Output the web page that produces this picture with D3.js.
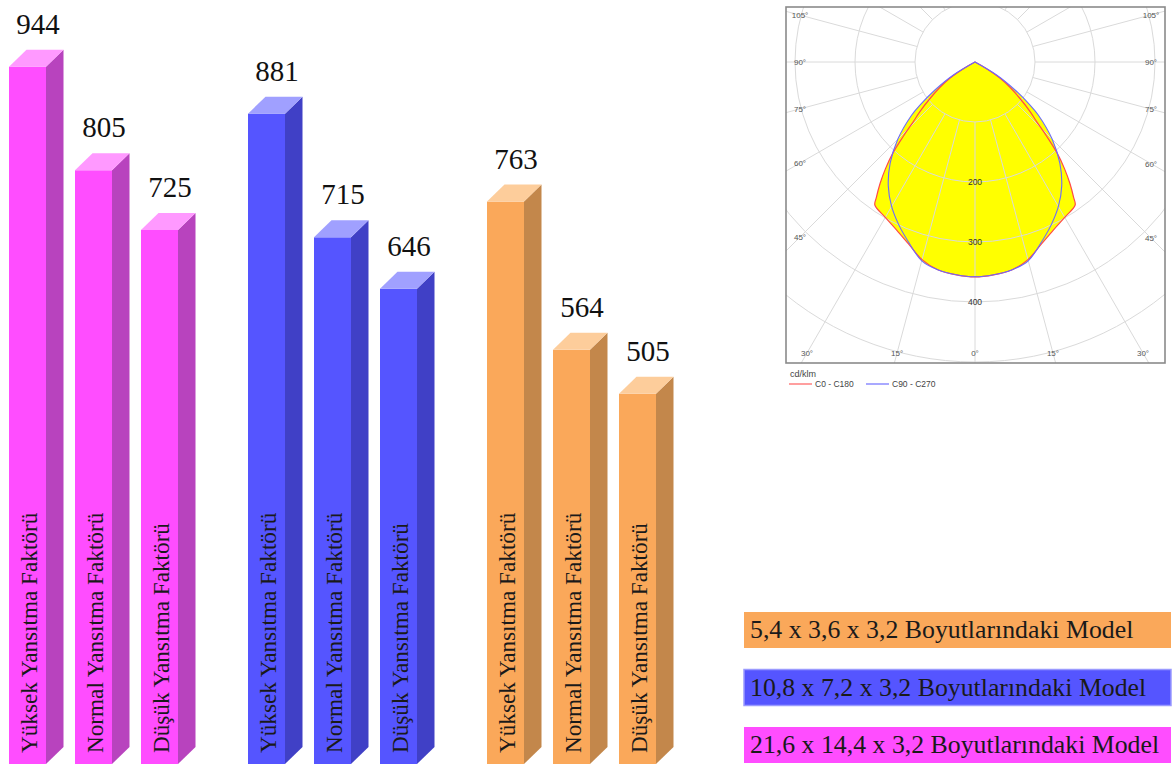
<!DOCTYPE html>
<html>
<head>
<meta charset="utf-8">
<script src="https://cdn.jsdelivr.net/npm/d3@7"></script>
<style>
  html, body { margin: 0; padding: 0; background: #ffffff; }
  svg { display: block; }
</style>
</head>
<body>
<svg id="chart" width="1175" height="767"></svg>
<script>
// ---- Illuminance results per room model and reflectance factor ----
const models = [
  "21,6 x 14,4 x 3,2 Boyutlarındaki Model",
  "10,8 x 7,2 x 3,2 Boyutlarındaki Model",
  "5,4 x 3,6 x 3,2 Boyutlarındaki Model"
];
const factors = ["Yüksek Yansıtma Faktörü", "Normal Yansıtma Faktörü", "Düşük Yansıtma Faktörü"];
const valuesLargeRoom  = [944, 805, 725];
const valuesMediumRoom = [881, 715, 646];
const valuesSmallRoom  = [763, 564, 505];
const legendOrder = [2, 1, 0]; // small, medium, large model from top to bottom

// ---- Luminaire intensity distribution (cd/klm) ----
const gammaC0     = [0, 5, 10, 15, 20, 25, 30, 35, 36, 38, 40, 42, 44, 46, 48, 51, 54, 57, 60, 62];
const intensityC0 = [358, 356, 352, 341, 323, 309, 299, 291, 280, 257, 232, 205, 172, 142, 124, 96, 73, 50, 20, 0];
const gammaC90     = [0, 5, 10, 15, 20, 25, 30, 35, 40, 45, 50, 52, 55, 59, 63];
const intensityC90 = [358, 356, 352, 343, 321, 300, 278, 252, 220, 182, 138, 116, 82, 42, 0];
const polarRings = [100, 200, 300, 400, 500];
const polarRingLabels = [200, 300, 400];
const polarAngleLabels = [0, 15, 30, 45, 60, 75, 90, 105];
const curveNames = ["C0 - C180", "C90 - C270"];

const svg = d3.select("#chart");
const serif = "'Liberation Serif', 'Times New Roman', serif";
const sans = "'Liberation Sans', Arial, sans-serif";

// ---------------- 3D bar chart ----------------
const series = [valuesLargeRoom, valuesMediumRoom, valuesSmallRoom];
const palette = [
  { front: "#ff4dff", side: "#b843be", top: "#ff99ff" },
  { front: "#5555ff", side: "#4040c6", top: "#a0a0ff" },
  { front: "#faa85a", side: "#c3874b", top: "#fdcd9b" }
];
const floorY = 764;
const depthX = 17.5, depthY = 17;

const y = d3.scaleLinear().domain([0, 1000]).range([770, 25]);
const xGroup = d3.scaleBand().domain(d3.range(models.length)).range([9, 9 + 3 * 239]);
const xBar = d3.scaleBand().domain(d3.range(factors.length))
  .range([0, 66 * (3 - 29 / 66)]).paddingInner(29 / 66).paddingOuter(0);
const bw = xBar.bandwidth();

const bars = [];
series.forEach((vals, g) => vals.forEach((v, i) => bars.push({ g, i, v })));

const barG = svg.append("g").attr("class", "bars");
const bar = barG.selectAll("g.bar").data(bars).join("g").attr("class", "bar")
  .attr("transform", d => `translate(${xGroup(d.g) + xBar(d.i)},0)`);

bar.append("rect")
  .attr("x", 0).attr("y", d => y(d.v))
  .attr("width", bw).attr("height", d => floorY - y(d.v))
  .attr("fill", d => palette[d.g].front);

bar.append("path")
  .attr("d", d => {
    const t = y(d.v);
    return `M${bw},${t} L${bw + depthX},${t - depthY} L${bw + depthX},${floorY - depthY} L${bw},${floorY} Z`;
  })
  .attr("fill", d => palette[d.g].side);

bar.append("path")
  .attr("d", d => {
    const t = y(d.v);
    return `M0,${t} L${depthX},${t - depthY} L${bw + depthX},${t - depthY} L${bw},${t} Z`;
  })
  .attr("fill", d => palette[d.g].top);

// value labels above each bar
bar.append("text")
  .attr("x", 29).attr("y", d => y(d.v) - depthY - 16)
  .attr("text-anchor", "middle")
  .attr("font-family", serif).attr("font-size", 29).attr("fill", "#111")
  .text(d => d.v);

// reflectance factor written up the bar
bar.append("text")
  .attr("transform", `translate(28,${floorY - 11}) rotate(-90)`)
  .attr("font-family", serif).attr("font-size", 23.2).attr("fill", "#1a1a1a")
  .text(d => factors[d.i]);

// ---------------- legend ----------------
const legendY = d3.scalePoint().domain(legendOrder).range([612, 727]);
const legend = svg.append("g").selectAll("g").data(legendOrder).join("g")
  .attr("transform", g => `translate(744,${legendY(g)})`);
legend.append("rect")
  .attr("width", 427).attr("height", 36)
  .attr("fill", g => palette[g].front)
  .attr("stroke", g => g === 1 ? "#9a9aff" : "none").attr("stroke-width", 1.5);
legend.append("text")
  .attr("x", 6).attr("y", 26)
  .attr("font-family", serif).attr("font-size", 25.8).attr("fill", "#1a1a1a")
  .text(g => models[g]);

// ---------------- polar intensity diagram ----------------
const box = { x: 786, y: 7, w: 379, h: 356 };
const cx = 975, cy = 62;
const r = d3.scaleLinear().domain([0, 500]).range([0, 300]);
const rad = deg => deg * Math.PI / 180;

const polar = svg.append("g").attr("class", "polar");
polar.append("defs").append("clipPath").attr("id", "polarClip")
  .append("rect").attr("x", box.x).attr("y", box.y).attr("width", box.w).attr("height", box.h);
polar.append("rect")
  .attr("x", box.x).attr("y", box.y).attr("width", box.w).attr("height", box.h)
  .attr("fill", "#fff");

const inner = polar.append("g").attr("clip-path", "url(#polarClip)");
const plot = inner.append("g").attr("transform", `translate(${cx},${cy})`);

// symmetric curve: left half (C180 / C270) and right half (C0 / C90)
function curvePoints(gammas, vals) {
  const pts = [];
  for (let k = gammas.length - 1; k >= 0; k--) pts.push([Math.PI + rad(gammas[k]), r(vals[k])]);
  for (let k = 1; k < gammas.length; k++) pts.push([Math.PI - rad(gammas[k]), r(vals[k])]);
  return pts;
}
const radial = d3.lineRadial().angle(p => p[0]).radius(p => p[1]).curve(d3.curveCatmullRom.alpha(0.5));
const ptsC0 = curvePoints(gammaC0, intensityC0);
const ptsC90 = curvePoints(gammaC90, intensityC90);

plot.append("path").attr("d", radial(ptsC0) + "Z").attr("fill", "#ffff00");
plot.append("path").attr("d", radial(ptsC90) + "Z").attr("fill", "#ffff00");

// grid rings and spokes
plot.selectAll("circle.ring").data(polarRings).join("circle").attr("class", "ring")
  .attr("r", d => r(d)).attr("fill", "none").attr("stroke", "#dadada").attr("stroke-width", 1);
const spokes = d3.range(-180, 181, 15);
plot.selectAll("line.spoke").data(spokes).join("line").attr("class", "spoke")
  .attr("x1", a => r(100) * Math.sin(rad(a))).attr("y1", a => r(100) * Math.cos(rad(a)))
  .attr("x2", a => 700 * Math.sin(rad(a))).attr("y2", a => 700 * Math.cos(rad(a)))
  .attr("stroke", "#dadada").attr("stroke-width", 1);

// curve outlines
plot.append("path").attr("d", radial(ptsC0) + "Z").attr("fill", "none")
  .attr("stroke", "#ff4a4a").attr("stroke-width", 1.2);
plot.append("path").attr("d", radial(ptsC90) + "Z").attr("fill", "none")
  .attr("stroke", "#6a6aff").attr("stroke-width", 1.1);

plot.selectAll("text.ringLabel").data(polarRingLabels).join("text").attr("class", "ringLabel")
  .attr("x", 0).attr("y", d => r(d) + 3)
  .attr("text-anchor", "middle").attr("font-family", sans).attr("font-size", 8.5).attr("fill", "#333")
  .text(d => d);

// angle labels placed where each spoke meets the inset frame
const inset = { left: box.x + 14 - cx, right: box.x + box.w - 14 - cx, bottom: box.y + box.h - 10 - cy };
function labelPos(a) {
  const dx = Math.sin(rad(a)), dy = Math.cos(rad(a));
  let t = Infinity;
  if (dx > 1e-6) t = Math.min(t, inset.right / dx);
  if (dx < -1e-6) t = Math.min(t, inset.left / dx);
  if (dy > 1e-6) t = Math.min(t, inset.bottom / dy);
  return [dx * t, dy * t];
}
const angleLabels = [];
polarAngleLabels.forEach(a => {
  angleLabels.push(-a);
  if (a !== 0) angleLabels.push(a);
});
plot.selectAll("text.angleLabel").data(angleLabels).join("text").attr("class", "angleLabel")
  .attr("x", a => labelPos(a)[0]).attr("y", a => labelPos(a)[1] + 3)
  .attr("text-anchor", "middle").attr("font-family", sans).attr("font-size", 8).attr("fill", "#555")
  .text(a => Math.abs(a) + "°");

polar.append("rect")
  .attr("x", box.x).attr("y", box.y).attr("width", box.w).attr("height", box.h)
  .attr("fill", "none").attr("stroke", "#8a8a8a").attr("stroke-width", 1.6);

// unit and curve legend
polar.append("text").attr("x", 790).attr("y", 377)
  .attr("font-family", sans).attr("font-size", 9).attr("fill", "#444").text("cd/klm");
const curveColors = ["#ff6060", "#7070ff"];
const curveLegendX = d3.scalePoint().domain([0, 1]).range([789, 866]);
const cl = polar.selectAll("g.curveLegend").data([0, 1]).join("g").attr("class", "curveLegend")
  .attr("transform", k => `translate(${curveLegendX(k)},384)`);
cl.append("line").attr("x1", 0).attr("x2", 23).attr("y1", 0).attr("y2", 0)
  .attr("stroke", k => curveColors[k]).attr("stroke-width", 1.2);
cl.append("text").attr("x", 26).attr("y", 3)
  .attr("font-family", sans).attr("font-size", 8.5).attr("fill", "#444")
  .text(k => curveNames[k]);
</script>
</body>
</html>
